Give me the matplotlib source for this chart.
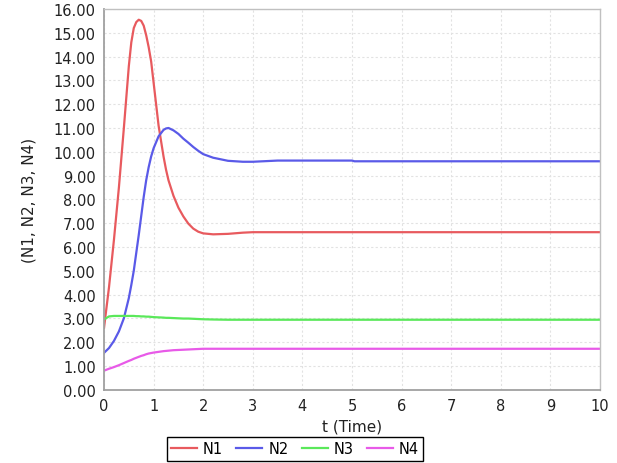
import matplotlib
matplotlib.use("Agg")
import matplotlib.pyplot as plt

# time grid and the four series
t = [0, 0.1, 0.2, 0.3, 0.4, 0.5, 0.55, 0.6, 0.65, 0.7, 0.75, 0.8, 0.85, 0.9,
     0.95, 1.0, 1.1, 1.2, 1.25, 1.3, 1.4, 1.5, 1.6, 1.7, 1.8, 1.9, 2.0, 2.2,
     2.5, 2.8, 3.0, 3.5, 5.0, 5.05, 10]
n1 = [2.6, 4.3, 6.3, 8.5, 11.0, 13.6, 14.6, 15.2, 15.45, 15.55, 15.5, 15.3,
      14.9, 14.4, 13.8, 12.9, 11.1, 9.8, 9.25, 8.8, 8.15, 7.65, 7.28, 6.98,
      6.77, 6.64, 6.57, 6.53, 6.55, 6.6, 6.62, 6.62, 6.62, 6.62, 6.62]
n2 = [1.55, 1.75, 2.05, 2.45, 3.0, 3.85, 4.4, 5.0, 5.75, 6.5, 7.3, 8.1, 8.8,
      9.35, 9.8, 10.15, 10.65, 10.92, 10.98, 11.0, 10.9, 10.75, 10.55, 10.38,
      10.2, 10.04, 9.9, 9.75, 9.62, 9.58, 9.58, 9.63, 9.63, 9.6, 9.6]
n3 = [2.95, 3.08, 3.1, 3.1, 3.1, 3.1, 3.1, 3.1, 3.09, 3.09, 3.08, 3.08, 3.07,
      3.07, 3.06, 3.05, 3.04, 3.03, 3.02, 3.02, 3.01, 3.0, 2.99, 2.99, 2.98,
      2.97, 2.96, 2.95, 2.94, 2.94, 2.94, 2.94, 2.94, 2.94, 2.94]
n4 = [0.8, 0.88, 0.95, 1.03, 1.12, 1.21, 1.25, 1.3, 1.34, 1.38, 1.42, 1.45,
      1.49, 1.52, 1.54, 1.56, 1.59, 1.62, 1.63, 1.64, 1.66, 1.67, 1.68, 1.69,
      1.7, 1.71, 1.72, 1.72, 1.72, 1.72, 1.72, 1.72, 1.72, 1.72, 1.72]

series = [("N1", n1, "#e85a5e"), ("N2", n2, "#5a5ae8"),
          ("N3", n3, "#5ae85a"), ("N4", n4, "#e85ae8")]

plt.rcParams["font.family"] = "DejaVu Sans"
fig = plt.figure(figsize=(6.17, 4.64), dpi=100)
ax = fig.add_axes([0.1686, 0.158, 0.8038, 0.8204])

for name, vals, col in series:
    ax.plot(t, vals, color=col, lw=1.6, label=name)

ax.set_xlim(0, 10)
ax.set_ylim(0, 16)
ax.set_xticks(range(0, 11))
ax.set_yticks(range(0, 17))
ax.set_yticklabels([f"{v:.2f}" for v in range(0, 17)])
ax.tick_params(length=0, labelsize=10.5, colors="#222222", pad=6)
ax.grid(True, color="#e2e2e2", ls=(0, (2, 2)), lw=0.8)
ax.set_axisbelow(True)
for side in ["left", "bottom"]:
    ax.spines[side].set_color("#a0a0a0")
    ax.spines[side].set_linewidth(1.3)
for side in ["top", "right"]:
    ax.spines[side].set_color("#c0c0c0")
    ax.spines[side].set_linewidth(1.0)

ax.set_xlabel("t (Time)", fontsize=11, color="#222222", labelpad=4)
ax.set_ylabel("(N1, N2, N3, N4)", fontsize=11, color="#222222", labelpad=12)

leg = fig.legend(loc="center", bbox_to_anchor=(295 / 617, 1 - 450 / 464),
                 ncol=4, fontsize=10.5, handlelength=1.8, handletextpad=0.4,
                 columnspacing=0.9, fancybox=False, framealpha=1,
                 borderpad=0.3)
leg.get_frame().set_edgecolor("black")
leg.get_frame().set_linewidth(1.0)

fig.savefig("out.png", dpi=100)
